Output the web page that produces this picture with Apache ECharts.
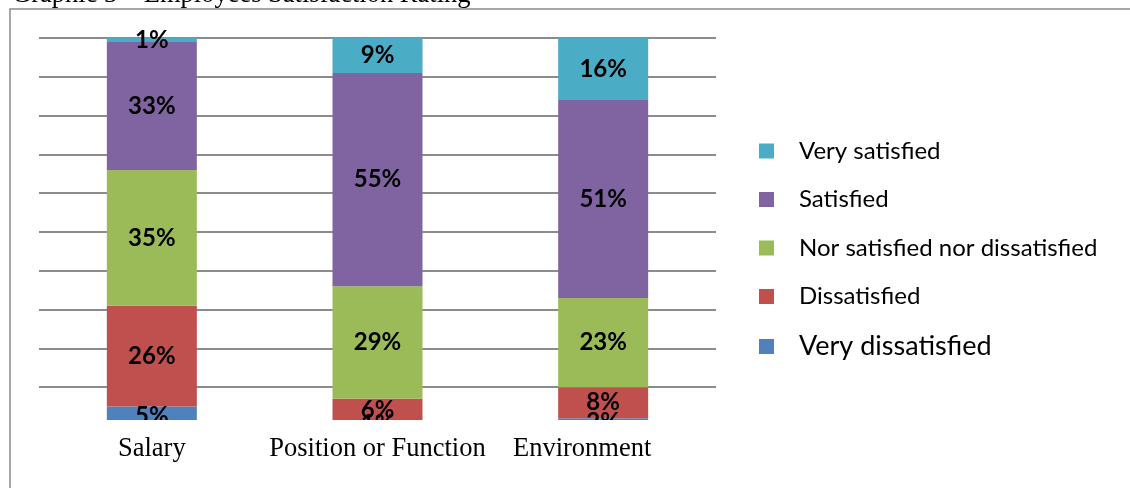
<!DOCTYPE html>
<html>
<head>
<meta charset="utf-8">
<script src="https://cdn.jsdelivr.net/npm/echarts@6/dist/echarts.min.js"></script>
<style>
  html, body { margin: 0; padding: 0; background: #fff; }
  #chart { width: 1130px; height: 488px; }
</style>
</head>
<body>
<div id="chart"></div>
<script>
// Survey categories along the x axis
const categories = ['Salary', 'Position or Function', 'Environment'];

// Share of answers (%) per category, stacked bottom to top
const veryDissatisfied = [5, 1, 2];
const dissatisfied = [26, 6, 8];
const neutral = [35, 29, 23];
const satisfied = [33, 55, 51];
const verySatisfied = [1, 9, 16];

const seriesNames = ['Very dissatisfied', 'Dissatisfied', 'Nor satisfied nor dissatisfied', 'Satisfied', 'Very satisfied'];
const seriesValues = [veryDissatisfied, dissatisfied, neutral, satisfied, verySatisfied];
const seriesColors = ['#4F81BD', '#C0504D', '#9BBB59', '#8064A2', '#4BACC6'];

const chart = echarts.init(document.getElementById('chart'), null, { renderer: 'canvas' });

const series = seriesNames.map((name, i) => ({
  name: name,
  type: 'bar',
  stack: 'total',
  barWidth: 90,
  data: seriesValues[i],
  itemStyle: { color: seriesColors[i] },
  label: {
    show: true,
    position: 'inside',
    formatter: '{c}%',
    color: '#000',
    fontFamily: 'Lato',
    fontWeight: 'bold',
    fontSize: 24
  }
}));

// The last category label sits a little left of its bar
const axisCategories = categories.map((c, i) =>
  i === categories.length - 1 ? { value: c, textStyle: { padding: [0, 42, 0, 0] } } : c
);

chart.setOption({
  animation: false,
  backgroundColor: '#fff',
  grid: { left: 39, right: 414, top: 38, bottom: 62 },
  xAxis: {
    type: 'category',
    data: axisCategories,
    axisLine: { show: false },
    axisTick: { show: false },
    axisLabel: {
      interval: 0,
      color: '#000',
      fontFamily: 'Liberation Serif',
      fontSize: 26.5,
      margin: 10
    }
  },
  yAxis: {
    type: 'value',
    min: 0,
    max: 100,
    interval: 10,
    axisLine: { show: false },
    axisTick: { show: false },
    axisLabel: { show: false },
    splitLine: { lineStyle: { color: '#8c8c8c', width: 2 } }
  },
  legend: {
    orient: 'vertical',
    left: 759,
    top: 139,
    padding: 0,
    itemWidth: 15,
    itemHeight: 15,
    itemGap: 24.5,
    icon: 'rect',
    data: [
      { name: 'Very satisfied' },
      { name: 'Satisfied' },
      { name: 'Nor satisfied nor dissatisfied' },
      { name: 'Dissatisfied' },
      { name: 'Very dissatisfied', textStyle: { fontSize: 27 } }
    ],
    textStyle: {
      color: '#000',
      fontFamily: 'Lato',
      fontSize: 24,
      padding: [0, 0, 0, 20]
    }
  },
  graphic: [
    {
      type: 'rect',
      z: 100,
      shape: { x: 10, y: 9, width: 1300, height: 700 },
      style: { fill: null, stroke: '#8a8a8a', lineWidth: 1.5 }
    },
    {
      type: 'rect',
      z: 100,
      shape: { x: 25, y: 420, width: 710, height: 14 },
      style: { fill: '#fff' }
    },
    {
      type: 'text',
      z: 100,
      x: 12,
      y: -5,
      style: {
        text: 'Graphic 3 \u2013 Employees Satisfaction Rating',
        fill: '#000',
        font: '26.5px "Liberation Serif"',
        verticalAlign: 'middle'
      }
    }
  ],
  series: series
});
</script>
</body>
</html>
